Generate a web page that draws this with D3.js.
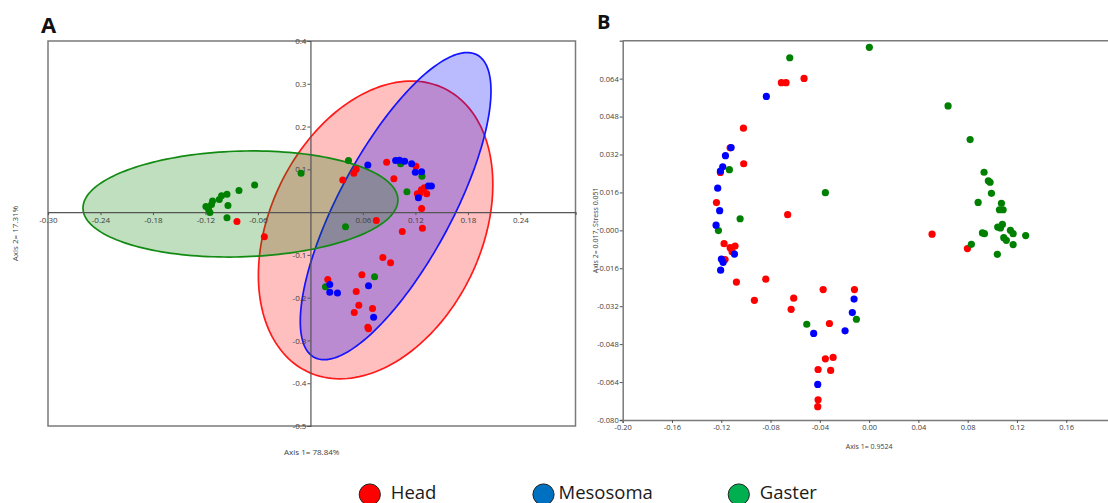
<!DOCTYPE html>
<html>
<head>
<meta charset="utf-8">
<script src="https://cdn.jsdelivr.net/npm/d3@7/dist/d3.min.js"></script>
<style>
  body { margin: 0; background: #fff; }
  svg { display: block; font-family: "Open Sans", "DejaVu Sans", sans-serif; }
</style>
</head>
<body>
<svg id="chart" width="1108" height="503"></svg>
<script>
// ---------- Panel A: PCoA (Axis 1 / Axis 2) ----------
const groups = ["Head", "Mesosoma", "Gaster"];

const headA = [
  [-0.084,-0.0218],[-0.0527,-0.0576],[0.037,0.0749],[0.0523,0.1],[0.0496,0.0906],
  [0.0871,0.1164],[0.0954,0.0782],[0.1206,0.107],[0.1268,0.0525],[0.1302,0.0571],
  [0.1222,0.0431],[0.1249,0.0431],[0.1329,0.0431],[0.1271,0.0087],[0.0753,-0.0194],
  [0.105,-0.0452],[0.128,-0.0375],[0.0828,-0.1061],[0.0916,-0.1185],[0.0198,-0.1576],
  [0.0588,-0.1466],[0.0523,-0.1857],[0.0553,-0.2178],[0.0501,-0.2349],[0.071,-0.2255],
  [0.0656,-0.2693],[0.0664,-0.2724]
];
const mesosomaA = [
  [0.0656,0.1101],[0.0974,0.1204],[0.1019,0.1211],[0.1077,0.1187],[0.1157,0.1133],
  [0.1199,0.093],[0.1271,0.0946],[0.1348,0.0609],[0.1383,0.0609],[0.1234,0.0337],
  [0.0221,-0.1693],[0.0221,-0.1874],[0.0309,-0.1888],[0.0664,-0.1724],[0.0722,-0.2459]
];
const gasterA = [
  [-0.0638,0.0632],[-0.0817,0.0508],[-0.0954,0.0415],[-0.1016,0.0384],[-0.1042,0.0297],
  [-0.1119,0.0258],[-0.1131,0.018],[-0.1195,0.0133],[-0.1165,0.0063],[-0.0943,0.0157],
  [-0.1149,-0.0007],[-0.0954,-0.0131],[-0.0107,0.0906],[0.0435,0.1204],[0.1031,0.1133],
  [0.1275,0.0836],[0.1103,0.0478],[0.0401,-0.0342],[0.0733,-0.1513],[0.0172,-0.1747]
];

// confidence ellipses: centre, spread along each axis, correlation
const ellipseHead     = { cx: 0.0745, cy: -0.0417, sx: 0.134, sy: 0.348, r: 0.305 };
const ellipseMesosoma = { cx: 0.0974, cy: 0.014,   sx: 0.109, sy: 0.359, r: 0.75 };
const ellipseGaster   = { cx: -0.080, cy: 0.019,   sx: 0.180, sy: 0.124, r: 0.076 };

const ticksAx = [-0.30,-0.24,-0.18,-0.12,-0.06,0.06,0.12,0.18,0.24];
const ticksAy = [-0.5,-0.4,-0.3,-0.2,-0.1,0.1,0.2,0.3,0.4];

// ---------- Panel B: NMDS ----------
const headB = [
  [-0.0712,0.0623],[-0.0674,0.0623],[-0.0528,0.0641],[-0.102,0.0431],[-0.1128,0.0348],
  [-0.1018,0.0281],[-0.1207,0.0244],[-0.1239,0.0117],[-0.0661,0.0066],[0.0511,-0.0016],
  [0.0798,-0.0077],[-0.1177,-0.0056],[-0.1128,-0.0073],[-0.1112,-0.009],[-0.1088,-0.0066],
  [-0.1169,-0.0123],[-0.1077,-0.0218],[-0.0839,-0.0206],[-0.0931,-0.0295],[-0.0612,-0.0286],
  [-0.0633,-0.0333],[-0.0373,-0.025],[-0.0119,-0.025],[-0.0322,-0.0393],[-0.0355,-0.0542],
  [-0.0292,-0.0536],[-0.0312,-0.0591],[-0.0414,-0.0587],[-0.0414,-0.0715],[-0.0417,-0.0744]
];
const mesosomaB = [
  [-0.0834,0.0565],[-0.112,0.0349],[-0.1166,0.0315],[-0.1188,0.0268],[-0.1207,0.025],
  [-0.1229,0.0178],[-0.1213,0.0083],[-0.1242,0.0022],[-0.1199,-0.0121],[-0.1185,-0.0135],
  [-0.1205,-0.0168],[-0.1093,-0.01],[-0.045,-0.0435],[-0.0417,-0.065],[-0.0195,-0.0424],
  [-0.0122,-0.029],[-0.0136,-0.0347]
];
const gasterB = [
  [-0.0644,0.0728],[0.0002,0.0772],[-0.1134,0.0256],[-0.0355,0.0159],[-0.1047,0.0049],
  [-0.1223,-0.0001],[0.0641,0.0525],[0.082,0.0383],[0.0933,0.0245],[0.0968,0.0209],
  [0.0982,0.0203],[0.0993,0.0156],[0.0885,0.0118],[0.1074,0.0114],[0.1058,0.0087],
  [0.1088,0.0087],[0.1044,0.0014],[0.1082,0.0025],[0.1066,0.001],[0.1147,0.0],
  [0.1169,-0.0014],[0.1271,-0.0022],[0.092,-0.0011],[0.0936,-0.0014],[0.1093,-0.0031],
  [0.083,-0.0059],[0.1114,-0.0042],[0.1169,-0.006],[0.1041,-0.0101],[-0.0103,-0.0375],
  [-0.0506,-0.0396]
];

const ticksBx = [-0.20,-0.16,-0.12,-0.08,-0.04,0.00,0.04,0.08,0.12,0.16];
const ticksBy = [-0.080,-0.064,-0.048,-0.032,-0.016,0.000,0.016,0.032,0.048,0.064];

// ---------- styling ----------
const pointColor = { Head: "#ff0000", Mesosoma: "#0000ff", Gaster: "#008000" };
const legendColor = { Head: "#ff0000", Mesosoma: "#0070c0", Gaster: "#00b050" };
const frameColor = "#7a7a7a";
const tickText = "#404040";
const hyphen = f => v => f(v).replace("\u2212", "-");

const svg = d3.select("#chart");

// ================= Panel A =================
const xA = d3.scaleLinear().domain([-0.30, 0.303]).range([48, 575.5]);
const yA = d3.scaleLinear().domain([-0.5, 0.4]).range([426, 41]);

const gA = svg.append("g");

gA.append("rect")
  .attr("x", xA.range()[0]).attr("y", yA.range()[1])
  .attr("width", xA.range()[1] - xA.range()[0])
  .attr("height", yA.range()[0] - yA.range()[1])
  .attr("fill", "none").attr("stroke", frameColor).attr("stroke-width", 1.5);

// ellipses drawn through the data scales
function ellipsePoints(e) {
  const k = Math.sqrt(1 - e.r * e.r);
  return d3.range(0, 361, 2).map(deg => {
    const t = deg * Math.PI / 180;
    const c = Math.cos(t), s = Math.sin(t);
    return [e.cx + e.sx * c, e.cy + e.sy * (e.r * c + k * s)];
  });
}
const ellLine = d3.line().x(d => xA(d[0])).y(d => yA(d[1])).curve(d3.curveLinearClosed);

[
  { e: ellipseHead, fill: "rgba(255,0,0,0.25)", stroke: "#ff1a1a" },
  { e: ellipseMesosoma, fill: "rgba(0,0,255,0.27)", stroke: "#1414ff" },
  { e: ellipseGaster, fill: "rgba(0,128,0,0.25)", stroke: "#138a13" }
].forEach(o => {
  gA.append("path")
    .attr("d", ellLine(ellipsePoints(o.e)))
    .attr("fill", o.fill)
    .attr("stroke", o.stroke)
    .attr("stroke-width", 1.7);
});

// axes crossing at the origin
const axAx = gA.append("g")
  .attr("transform", `translate(0,${yA(0)})`)
  .call(d3.axisBottom(xA).tickValues(ticksAx).tickFormat(hyphen(d3.format(".2f"))).tickSizeOuter(0).tickSize(3).tickPadding(2));
const axAy = gA.append("g")
  .attr("transform", `translate(${xA(0)},0)`)
  .call(d3.axisLeft(yA).tickValues(ticksAy).tickFormat(hyphen(d3.format(".1f"))).tickSizeOuter(0).tickSize(3).tickPadding(1));
[axAx, axAy].forEach(a => {
  a.selectAll(".domain").attr("stroke", "#555").attr("stroke-width", 1.2);
  a.selectAll(".tick line").attr("stroke", "#555");
  a.selectAll("text").attr("fill", tickText).attr("font-size", 8).attr("font-family", "Open Sans, sans-serif");
});

const layersA = [["Head", headA], ["Gaster", gasterA], ["Mesosoma", mesosomaA]];
layersA.forEach(([name, pts]) => {
  gA.append("g").selectAll("circle").data(pts).join("circle")
    .attr("cx", d => xA(d[0])).attr("cy", d => yA(d[1]))
    .attr("r", 3.5).attr("fill", pointColor[name]);
});

gA.append("text").text("Axis 1= 78.84%")
  .attr("x", (xA.range()[0] + xA.range()[1]) / 2).attr("y", 455)
  .attr("text-anchor", "middle").attr("font-size", 8).attr("fill", tickText);
gA.append("text").text("Axis 2= 17.31%")
  .attr("transform", `translate(18,${(yA.range()[0] + yA.range()[1]) / 2}) rotate(-90)`)
  .attr("text-anchor", "middle").attr("font-size", 8).attr("fill", tickText);

svg.append("text").text("A").attr("x", 41).attr("y", 33)
  .attr("font-size", 22).attr("font-weight", "bold").attr("fill", "#111");

// ================= Panel B =================
const xB = d3.scaleLinear().domain([-0.20, 0.20]).range([622.7, 1115.5]);
const yB = d3.scaleLinear().domain([-0.080, 0.080]).range([420, 40.7]);

const gB = svg.append("g");

gB.append("line")
  .attr("x1", xB.range()[0]).attr("x2", xB.range()[1])
  .attr("y1", yB.range()[1]).attr("y2", yB.range()[1])
  .attr("stroke", frameColor).attr("stroke-width", 1.5);

const axBx = gB.append("g")
  .attr("transform", `translate(0,${yB.range()[0]})`)
  .call(d3.axisBottom(xB).tickValues(ticksBx).tickFormat(hyphen(d3.format(".2f"))).tickSizeOuter(0).tickSize(3).tickPadding(2));
const axBy = gB.append("g")
  .attr("transform", `translate(${xB.range()[0]},0)`)
  .call(d3.axisLeft(yB).tickValues(ticksBy).tickFormat(hyphen(d3.format(".3f"))).tickSizeOuter(0).tickSize(3).tickPadding(1));
[axBx, axBy].forEach(a => {
  a.selectAll(".domain").attr("stroke", frameColor).attr("stroke-width", 1.5);
  a.selectAll(".tick line").attr("stroke", "#555");
  a.selectAll("text").attr("fill", tickText).attr("font-size", 7.5).attr("font-family", "Open Sans, sans-serif");
});

const layersB = [["Head", headB], ["Gaster", gasterB], ["Mesosoma", mesosomaB]];
layersB.forEach(([name, pts]) => {
  gB.append("g").selectAll("circle").data(pts).join("circle")
    .attr("cx", d => xB(d[0])).attr("cy", d => yB(d[1]))
    .attr("r", 3.6).attr("fill", pointColor[name]);
});

gB.append("text").text("Axis 1= 0.9524")
  .attr("x", xB(0)).attr("y", 449)
  .attr("text-anchor", "middle").attr("font-size", 7).attr("fill", tickText);
gB.append("text").text("Axis 2= 0.017, Stress 0.051")
  .attr("transform", `translate(598,${(yB.range()[0] + yB.range()[1]) / 2}) rotate(-90)`)
  .attr("text-anchor", "middle").attr("font-size", 7).attr("fill", tickText);

svg.append("text").text("B").attr("x", 597).attr("y", 28.5)
  .attr("font-size", 20).attr("font-weight", "bold").attr("fill", "#111");

// ================= Legend =================
const legendX = { Head: 369.8, Mesosoma: 543.5, Gaster: 738.8 };
const leg = svg.append("g");
groups.forEach(name => {
  leg.append("circle")
    .attr("cx", legendX[name]).attr("cy", 494.5).attr("r", 10.6)
    .attr("fill", legendColor[name]).attr("stroke", "#222").attr("stroke-width", 1);
  leg.append("text").text(name)
    .attr("x", legendX[name] + (name === "Mesosoma" ? 15 : 21)).attr("y", 498.5)
    .attr("font-size", 18.5).attr("fill", "#1a1a1a");
});
</script>
</body>
</html>
